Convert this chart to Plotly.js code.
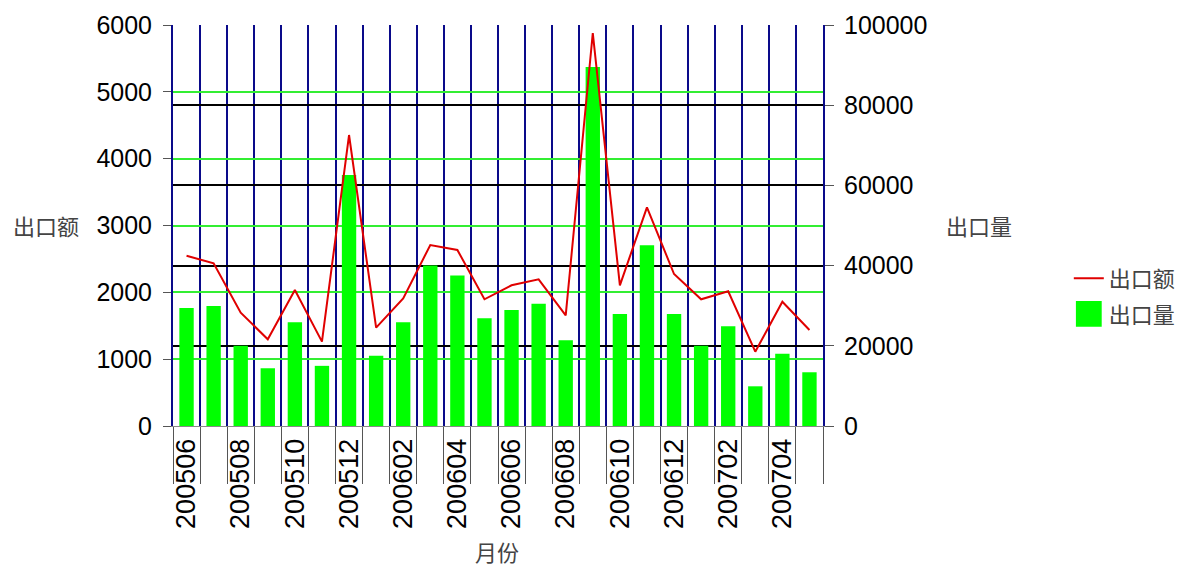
<!DOCTYPE html>
<html>
<head>
<meta charset="utf-8">
<script src="https://cdn.plot.ly/plotly-3.0.1.min.js"></script>
<style>html,body{margin:0;padding:0;background:#fff;}#chart{width:1181px;height:567px;}</style>
</head>
<body>
<div id="chart"></div>
<script>
var months = ['200506','200507','200508','200509','200510','200511','200512','200601','200602','200603','200604','200605','200606','200607','200608','200609','200610','200611','200612','200701','200702','200703','200704','200705'];
var exportAmount = [2548, 2434, 1696, 1297, 2035, 1262, 4354, 1471, 1910, 2708, 2634, 1896, 2105, 2195, 1656, 5880, 2105, 3272, 2274, 1896, 2015, 1112, 1860, 1437];
var exportQty = [29400, 29900, 20000, 14400, 25900, 15000, 62600, 17500, 25900, 40000, 37500, 26900, 28900, 30500, 21400, 89500, 27900, 45100, 27900, 20000, 24900, 9900, 18000, 13400];
var tickLabels = months.map(function(m, i){ return i % 2 === 0 ? m : ''; });

var cjk = '"Noto Sans CJK SC", sans-serif';
var latin = '"Liberation Sans", Arial, sans-serif';

var traces = [
  {
    type: 'scatter', mode: 'lines', name: '出口额',
    x: months, y: exportAmount, yaxis: 'y2',
    line: {color: '#e00000', width: 2},
    legendgroup: 'a'
  },
  {
    type: 'bar', name: '出口量',
    x: months, y: exportQty, yaxis: 'y',
    marker: {color: '#00ff00', line: {width: 0}},
    legendgroup: 'b'
  }
];

var layout = {
  width: 1181, height: 567,
  margin: {l: 173, r: 358, t: 25, b: 141},
  paper_bgcolor: '#ffffff', plot_bgcolor: '#ffffff',
  bargap: 0.47,
  showlegend: true,
  legend: {
    xref: 'container', yref: 'container',
    x: 0.905, y: 0.477, xanchor: 'left', yanchor: 'middle',
    font: {family: cjk, size: 22, color: '#444'},
    traceorder: 'grouped', tracegroupgap: 4,
    bgcolor: 'rgba(0,0,0,0)'
  },
  xaxis: {
    type: 'category',
    tickvals: months, ticktext: tickLabels,
    tickson: 'boundaries',
    tickangle: -90,
    ticks: 'outside', ticklen: 57, tickcolor: '#555', tickwidth: 1,
    ticklabelstandoff: 1,
    tickfont: {family: latin, size: 27, color: '#000'},
    showgrid: true, gridcolor: '#0a0a8a', gridwidth: 2,
    showline: true, linecolor: '#888', linewidth: 1,
    zeroline: false, fixedrange: true
  },
  yaxis: {
    side: 'right',
    range: [0, 100000], dtick: 20000, tick0: 0,
    tickformat: 'd',
    ticks: 'outside', ticklen: 9, tickcolor: '#555',
    ticklabelstandoff: 5,
    tickfont: {family: latin, size: 25, color: '#000'},
    showgrid: true, gridcolor: '#000000', gridwidth: 2,
    showline: true, linecolor: '#0a0a8a', linewidth: 2,
    zeroline: false, fixedrange: true
  },
  yaxis2: {
    overlaying: 'y', side: 'left',
    range: [0, 6000], dtick: 1000, tick0: 0,
    tickformat: 'd',
    ticks: 'outside', ticklen: 8, tickcolor: '#555',
    ticklabelstandoff: 6,
    tickfont: {family: latin, size: 25, color: '#000'},
    showgrid: true, gridcolor: '#33ee33', gridwidth: 2,
    showline: true, linecolor: '#0a0a8a', linewidth: 2,
    zeroline: false, fixedrange: true
  },
  annotations: [
    {text: '出口额', xref: 'paper', yref: 'paper', x: -0.195, y: 0.501, xanchor: 'center', yanchor: 'middle', showarrow: false,
     font: {family: cjk, size: 22, color: '#444'}},
    {text: '出口量', xref: 'paper', yref: 'paper', x: 1.24, y: 0.501, xanchor: 'center', yanchor: 'middle', showarrow: false,
     font: {family: cjk, size: 22, color: '#444'}},
    {text: '月份', xref: 'paper', yref: 'paper', x: 0.498, y: -0.312, xanchor: 'center', yanchor: 'middle', showarrow: false,
     font: {family: cjk, size: 22, color: '#444'}}
  ]
};

Plotly.newPlot('chart', traces, layout, {displayModeBar: false, staticPlot: true}).then(function(){
  var groups = document.querySelectorAll('.legend .traces');
  groups.forEach(function(g){
    var txt = g.querySelector('.legendtext');
    if (txt && txt.textContent === '出口量') {
      g.querySelectorAll('.legendpoints path').forEach(function(p){
        var t = p.getAttribute('transform') || '';
        p.setAttribute('transform', t + ' scale(2.15)');
      });
    }
  });
});
</script>
</body>
</html>
